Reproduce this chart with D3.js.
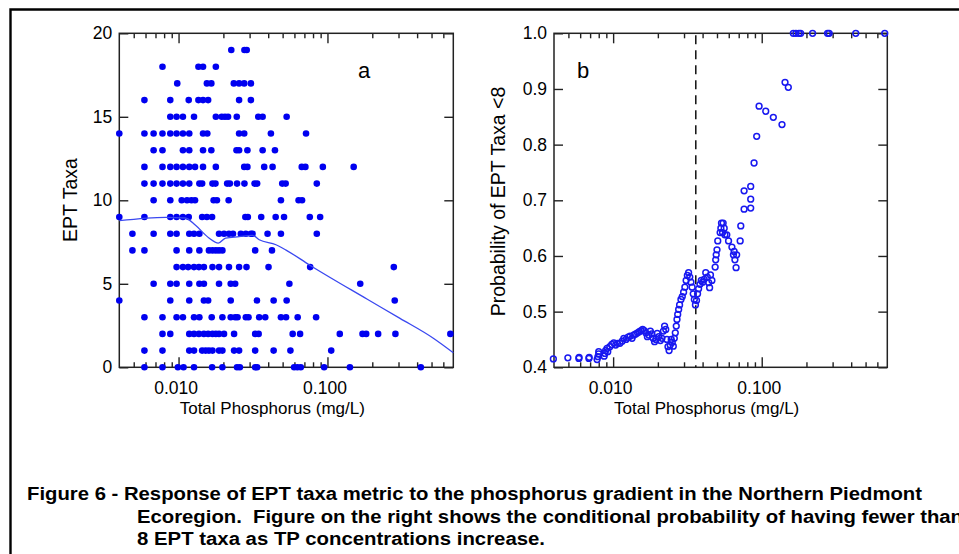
<!DOCTYPE html>
<html>
<head>
<meta charset="utf-8">
<script src="https://cdn.jsdelivr.net/npm/d3@7"></script>
<style>
  body { margin: 0; background: #fff; }
  svg { display: block; font-family: "Liberation Sans", Arial, sans-serif; }
</style>
</head>
<body>
<svg id="chart" width="959" height="554"></svg>
<script>
// ---- panel a : EPT taxa count per site, TP (mg/L) of the sites for each count
let taxaRows = [19, 18, 17, 16, 15, 14, 13, 12, 11, 10, 9, 8, 7, 6, 5, 4, 3, 2, 1, 0];
let tpRows = [
  [0.0226, 0.0277, 0.0287],
  [0.0078, 0.0136, 0.0146, 0.0178],
  [0.0098, 0.0155, 0.0166, 0.0235, 0.0255, 0.0276, 0.0306],
  [0.0059, 0.0088, 0.0117, 0.0136, 0.0146, 0.0158, 0.0255, 0.0306],
  [0.0088, 0.0097, 0.0107, 0.0127, 0.0178, 0.0195, 0.0205, 0.0215, 0.0246, 0.0343, 0.0367, 0.0532],
  [0.0040, 0.0059, 0.0068, 0.0078, 0.0088, 0.0097, 0.0107, 0.0118, 0.0146, 0.0156, 0.0255, 0.0276, 0.0417, 0.0718],
  [0.0068, 0.0078, 0.0107, 0.0118, 0.0146, 0.0166, 0.0245, 0.0255, 0.0290, 0.0367, 0.0444],
  [0.0059, 0.0078, 0.0088, 0.0097, 0.0107, 0.0118, 0.0129, 0.0146, 0.0178, 0.0276, 0.0290, 0.0376, 0.0428, 0.0672, 0.0711, 0.0931, 0.150],
  [0.0059, 0.0068, 0.0078, 0.0088, 0.0097, 0.0107, 0.0118, 0.0138, 0.0144, 0.0169, 0.0177, 0.0212, 0.0221, 0.0247, 0.0277, 0.0324, 0.0337, 0.0497, 0.0524, 0.0848],
  [0.0068, 0.0088, 0.0105, 0.0114, 0.0122, 0.0129, 0.0172, 0.0181, 0.0217, 0.0487, 0.0640, 0.0675],
  [0.0040, 0.0059, 0.0088, 0.0097, 0.0107, 0.0117, 0.0144, 0.0155, 0.0168, 0.0281, 0.0292, 0.0359, 0.0449, 0.0511, 0.0761, 0.0893],
  [0.0049, 0.0068, 0.0088, 0.0097, 0.0118, 0.0127, 0.0138, 0.0187, 0.0202, 0.0218, 0.0232, 0.0262, 0.0283, 0.0306, 0.0314, 0.0396, 0.0487, 0.0848],
  [0.0049, 0.0059, 0.0097, 0.0118, 0.0138, 0.0160, 0.0169, 0.0178, 0.0187, 0.0197, 0.0327, 0.0424],
  [0.0097, 0.0107, 0.0116, 0.0127, 0.0137, 0.0148, 0.0169, 0.0187, 0.0218, 0.0255, 0.0286, 0.0402, 0.0765, 0.279],
  [0.0068, 0.0088, 0.0097, 0.0118, 0.0138, 0.0148, 0.0187, 0.0224, 0.0240, 0.0555, 0.166],
  [0.0040, 0.0088, 0.0118, 0.0148, 0.0158, 0.0224, 0.0336, 0.0435, 0.0532, 0.283],
  [0.0059, 0.0078, 0.0097, 0.0107, 0.0127, 0.0138, 0.0167, 0.0197, 0.0224, 0.0240, 0.0249, 0.0283, 0.0295, 0.0348, 0.0382, 0.0487, 0.0527, 0.0631, 0.0839],
  [0.0078, 0.0088, 0.0118, 0.0127, 0.0137, 0.0148, 0.0158, 0.0169, 0.0178, 0.0187, 0.0202, 0.0236, 0.0327, 0.0345, 0.0584, 0.0655, 0.121, 0.172, 0.182, 0.219, 0.286, 0.669],
  [0.0059, 0.0078, 0.0118, 0.0127, 0.0144, 0.0152, 0.0160, 0.0169, 0.0187, 0.0197, 0.0236, 0.0255, 0.0327, 0.0435, 0.0564, 0.106],
  [0.0059, 0.0078, 0.0099, 0.0108, 0.0127, 0.0168, 0.0197, 0.0247, 0.0258, 0.0327, 0.0337, 0.0597, 0.0628, 0.0662, 0.0950, 0.1415, 0.4237]
];

// smoothed trend in panel a
let loessTP  = [0.004, 0.0082, 0.0111, 0.0130, 0.0160, 0.0185, 0.0207, 0.0255, 0.0314, 0.0348, 0.0451, 0.0527, 0.0757, 0.184, 0.307, 0.514, 0.70];
let loessEPT = [8.78, 8.98, 8.94, 8.50, 7.74, 7.44, 7.74, 7.82, 7.90, 7.64, 7.34, 7.02, 6.13, 4.09, 2.93, 1.74, 0.87];

// ---- panel b : conditional probability of EPT taxa < 8
let probTP = [
  0.00396, 0.00496, 0.00588, 0.0059, 0.00687, 0.0069, 0.0078, 0.0079, 0.0080, 0.0080,
  0.0087, 0.0088, 0.0089, 0.0091, 0.0092, 0.0095, 0.0098, 0.0101, 0.0104, 0.0107,
  0.0111, 0.0115, 0.0118, 0.0122, 0.0126, 0.0130, 0.0134, 0.0138, 0.0142, 0.0146, 0.0150, 0.0154, 0.0158,
  0.0162, 0.0166, 0.0170, 0.0174, 0.0178, 0.0182, 0.0186, 0.0190, 0.0194, 0.0198, 0.0203, 0.0208, 0.0213,
  0.0218, 0.0222, 0.0226, 0.0230, 0.0234, 0.0238, 0.0242, 0.0246, 0.0250, 0.0254, 0.0258, 0.0262, 0.0266,
  0.0269, 0.0272, 0.0276, 0.0280, 0.0286, 0.0292, 0.0298, 0.0304, 0.0310, 0.0316, 0.0322, 0.0328, 0.0334,
  0.0340, 0.0346, 0.0352, 0.0358, 0.0364, 0.0370, 0.0376, 0.0384, 0.0392, 0.0400, 0.0410, 0.0420, 0.0430,
  0.0440, 0.0446, 0.0452, 0.0462, 0.0486, 0.0490, 0.0494, 0.0500, 0.0506, 0.0525, 0.0531, 0.0536, 0.0545,
  0.0550, 0.0559, 0.0565, 0.0582, 0.0598, 0.0630, 0.0645, 0.0652, 0.0660, 0.0672, 0.0678, 0.0716, 0.0723,
  0.0761, 0.0761, 0.0843, 0.0843, 0.0843, 0.0888, 0.0925, 0.0960, 0.1064, 0.1197, 0.1369, 0.1435, 0.151,
  0.1632, 0.170, 0.178, 0.1827, 0.220, 0.2773, 0.2844, 0.4295, 0.673
];
let probValue = [
  0.415, 0.417, 0.416, 0.418, 0.416, 0.418, 0.414, 0.419, 0.424, 0.428,
  0.420, 0.425, 0.430, 0.434, 0.428, 0.437, 0.441, 0.444, 0.440, 0.443,
  0.443, 0.447, 0.452, 0.450, 0.454, 0.456, 0.452, 0.458, 0.460, 0.462, 0.464, 0.466, 0.468,
  0.466, 0.462, 0.455, 0.458, 0.465, 0.460, 0.452, 0.446, 0.450, 0.461, 0.455, 0.448, 0.452,
  0.465, 0.474, 0.468, 0.450, 0.437, 0.430, 0.440, 0.450, 0.445, 0.438, 0.452, 0.462, 0.474,
  0.486, 0.495, 0.504, 0.512, 0.522, 0.527, 0.535, 0.544, 0.556, 0.565, 0.570, 0.562, 0.553,
  0.544, 0.532, 0.522, 0.512, 0.520, 0.532, 0.541, 0.549, 0.556, 0.553, 0.558, 0.570, 0.562,
  0.552, 0.543, 0.566, 0.556, 0.580, 0.593, 0.602, 0.611, 0.627, 0.642, 0.650, 0.659, 0.642,
  0.659, 0.650, 0.638, 0.638, 0.627, 0.616, 0.602, 0.608, 0.593, 0.579, 0.602, 0.627, 0.654,
  0.684, 0.717, 0.686, 0.702, 0.725, 0.767, 0.815, 0.869, 0.860, 0.849, 0.836, 0.912, 0.903,
  1.0, 1.0, 1.0, 1.0, 1.0, 1.0, 1.0, 1.0, 1.0
];
let tpThreshold = 0.036;

// ---- axes
let xDomain = [0.004, 0.7];
let xMajorTicks = [0.01, 0.1];
let xMajorLabels = ["0.010", "0.100"];
let xMinorTicks = [0.005, 0.006, 0.007, 0.008, 0.009, 0.02, 0.03, 0.04, 0.05, 0.06, 0.07, 0.08, 0.09, 0.2, 0.3, 0.4, 0.5, 0.6];
let yTicksA = [0, 5, 10, 15, 20];
let yTicksB = [0.4, 0.5, 0.6, 0.7, 0.8, 0.9, 1.0];

let captionLines = [
  "Figure 6 - Response of EPT taxa metric to the phosphorus gradient in the Northern Piedmont",
  "Ecoregion.  Figure on the right shows the conditional probability of having fewer than",
  "8 EPT taxa as TP concentrations increase."
];

let svg = d3.select("#chart");
let blue = "#0000f0";

// outer frame (only top and left edges are visible)
svg.append("path")
   .attr("d", "M10.5,554 L10.5,9.5 L959,9.5")
   .attr("fill", "none")
   .attr("stroke", "#000")
   .attr("stroke-width", 2.4);

let drawFrame = (g, x, y, yTicks, yFmt) => {
  let [x0, x1] = x.range();
  let [y0, y1] = y.range();
  let axisStyle = (sel) => {
    sel.select(".domain").remove();
    sel.selectAll("line").attr("stroke", "#222").attr("stroke-width", 1.4);
    sel.selectAll("text").attr("fill", "#000").style("font-size", "17.5px")
       .attr("font-family", "Liberation Sans, Arial, sans-serif");
  };
  // bottom
  g.append("g").attr("transform", `translate(0,${y0})`)
   .call(d3.axisBottom(x).tickValues(xMinorTicks).tickSizeInner(-5).tickSizeOuter(0).tickFormat(""))
   .call(axisStyle);
  g.append("g").attr("transform", `translate(0,${y0})`)
   .call(d3.axisBottom(x).tickValues(xMajorTicks).tickSizeInner(-10).tickSizeOuter(0)
          .tickPadding(14).tickFormat((d, i) => xMajorLabels[i]))
   .call(axisStyle)
   .selectAll("text").attr("dx", "-3");
  // top
  g.append("g").attr("transform", `translate(0,${y1})`)
   .call(d3.axisTop(x).tickValues(xMinorTicks).tickSizeInner(-5).tickSizeOuter(0).tickFormat(""))
   .call(axisStyle);
  g.append("g").attr("transform", `translate(0,${y1})`)
   .call(d3.axisTop(x).tickValues(xMajorTicks).tickSizeInner(-10).tickSizeOuter(0).tickFormat(""))
   .call(axisStyle);
  // left / right
  g.append("g").attr("transform", `translate(${x0},0)`)
   .call(d3.axisLeft(y).tickValues(yTicks).tickSizeInner(-9).tickSizeOuter(0).tickPadding(7).tickFormat(yFmt))
   .call(axisStyle);
  g.append("g").attr("transform", `translate(${x1},0)`)
   .call(d3.axisRight(y).tickValues(yTicks).tickSizeInner(-9).tickSizeOuter(0).tickFormat(""))
   .call(axisStyle);
  g.append("rect")
   .attr("x", x0).attr("y", y1)
   .attr("width", x1 - x0).attr("height", y0 - y1)
   .attr("fill", "none").attr("stroke", "#222").attr("stroke-width", 1.5);
};

// ---------- panel a
let xA = d3.scaleLog().domain(xDomain).range([119.3, 453.3]);
let yA = d3.scaleLinear().domain([0, 20]).range([367.3, 33.3]);
let gA = svg.append("g");
drawFrame(gA, xA, yA, yTicksA, d3.format("d"));

let pointsA = [];
taxaRows.forEach((taxa, i) => tpRows[i].forEach(tp => pointsA.push({ tp: tp, taxa: taxa })));

gA.append("g").selectAll("circle")
  .data(pointsA)
  .enter()
  .append("circle")
  .attr("cx", d => xA(d.tp))
  .attr("cy", d => yA(d.taxa))
  .attr("r", 3.3)
  .attr("fill", blue);

gA.append("path")
  .datum(loessTP.map((tp, i) => [tp, loessEPT[i]]))
  .attr("d", d3.line().x(d => xA(d[0])).y(d => yA(d[1])).curve(d3.curveMonotoneX))
  .attr("fill", "none")
  .attr("stroke", "#3a48f0")
  .attr("stroke-width", 1.3);

gA.append("text").attr("x", 364).attr("y", 78).attr("text-anchor", "middle")
  .style("font-size", "22px").text("a");

gA.append("text")
  .attr("x", (119.3 + 453.3) / 2 - 14).attr("y", 414)
  .attr("text-anchor", "middle").style("font-size", "17px")
  .text("Total Phosphorus (mg/L)");

gA.append("text")
  .attr("transform", "translate(77,200) rotate(-90)")
  .attr("text-anchor", "middle").style("font-size", "19.5px")
  .text("EPT Taxa");

// ---------- panel b
let xB = d3.scaleLog().domain(xDomain).range([554, 887.3]);
let yB = d3.scaleLinear().domain([0.4, 1.0]).range([367.3, 33.3]);
let gB = svg.append("g");
drawFrame(gB, xB, yB, yTicksB, d3.format(".1f"));

gB.append("line")
  .attr("x1", xB(tpThreshold)).attr("x2", xB(tpThreshold))
  .attr("y1", yB(1.0) + 2).attr("y2", yB(0.4))
  .attr("stroke", "#111").attr("stroke-width", 1.5)
  .attr("stroke-dasharray", "9,6");

gB.append("g").selectAll("circle")
  .data(probTP.map((tp, i) => ({ tp: tp, p: probValue[i] })))
  .enter()
  .append("circle")
  .attr("cx", d => xB(d.tp))
  .attr("cy", d => yB(d.p))
  .attr("r", 2.9)
  .attr("fill", "none")
  .attr("stroke", "#1818f0")
  .attr("stroke-width", 1.5);

gB.append("text").attr("x", 583).attr("y", 78).attr("text-anchor", "middle")
  .style("font-size", "22px").text("b");

gB.append("text")
  .attr("x", (554 + 887.3) / 2 - 14).attr("y", 414)
  .attr("text-anchor", "middle").style("font-size", "17px")
  .text("Total Phosphorus (mg/L)");

gB.append("text")
  .attr("transform", "translate(505,201.5) rotate(-90)")
  .attr("text-anchor", "middle").style("font-size", "19.5px")
  .text("Probability of EPT Taxa <8");

// ---------- caption
let captionX = [27, 137, 137];
let captionY = [500, 523, 545];
let captionLen = [895, 826, 408];
svg.append("g").selectAll("text")
  .data(captionLines)
  .enter()
  .append("text")
  .attr("x", (d, i) => captionX[i])
  .attr("y", (d, i) => captionY[i])
  .attr("textLength", (d, i) => captionLen[i])
  .attr("lengthAdjust", "spacingAndGlyphs")
  .attr("font-family", "Liberation Sans Narrow, Liberation Sans, Arial, sans-serif")
  .attr("font-weight", "bold")
  .style("font-size", "18px")
  .style("white-space", "pre")
  .text(d => d);
</script>
</body>
</html>
